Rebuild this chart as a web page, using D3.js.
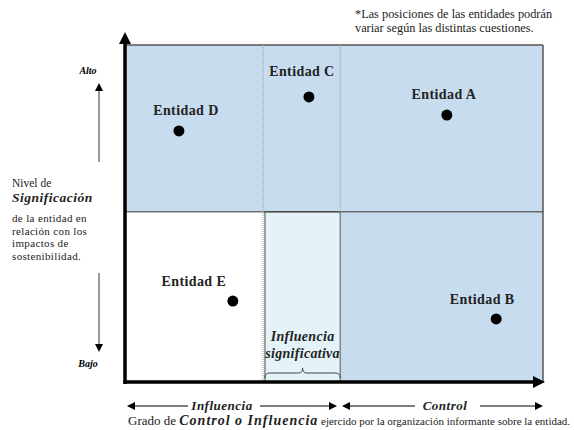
<!DOCTYPE html>
<html>
<head>
<meta charset="utf-8">
<script src="https://cdn.jsdelivr.net/npm/d3@7"></script>
</head>
<body style="margin:0">
<svg id="chart" width="574" height="430"></svg>
<script>
var entities = ["Entidad A", "Entidad B", "Entidad C", "Entidad D", "Entidad E"];
var influence = [77.0, 88.8, 44.0, 12.9, 25.8];
var significance = [79.2, 18.7, 84.6, 74.5, 24.0];
var xSplits = [33, 51.5];
var ySplit = 50.5;
var levelLabels = ["Alto", "Bajo"];
var note = ["*Las posiciones de las entidades podrán", "variar según las distintas cuestiones."];
var yTitle = ["Nivel de", "Significación", "de la entidad en", "relación con los", "impactos de", "sostenibilidad."];
var xGroups = ["Influencia", "Control"];

var svg = d3.select("#chart");
var serif = "'Liberation Serif', 'Times New Roman', serif";
var blue = "#c8dcf0";
var pale = "#e4f3f8";

var x = d3.scaleLinear().domain([0, 100]).range([125, 543]);
var y = d3.scaleLinear().domain([0, 100]).range([382, 45]);

var defs = svg.append("defs");
function marker(id, w, h) {
    defs.append("marker")
        .attr("id", id)
        .attr("viewBox", "0 0 10 10")
        .attr("refX", 0)
        .attr("refY", 5)
        .attr("markerUnits", "userSpaceOnUse")
        .attr("markerWidth", w)
        .attr("markerHeight", h)
        .attr("orient", "auto-start-reverse")
        .append("path")
        .attr("d", "M0,0L10,5L0,10Z")
        .attr("fill", "#000");
}
marker("big", 12, 12);
marker("small", 9, 8);

// quadrants
svg.append("rect")
    .attr("x", x(0)).attr("y", y(100))
    .attr("width", x(100) - x(0)).attr("height", y(ySplit) - y(100))
    .attr("fill", blue);
svg.append("rect")
    .attr("x", x(xSplits[1])).attr("y", y(ySplit))
    .attr("width", x(100) - x(xSplits[1])).attr("height", y(0) - y(ySplit))
    .attr("fill", blue);
svg.append("rect")
    .attr("x", x(xSplits[0]) + 2).attr("y", y(ySplit))
    .attr("width", x(xSplits[1]) - x(xSplits[0]) - 2).attr("height", y(0) - y(ySplit))
    .attr("fill", pale)
    .attr("stroke", "#666")
    .attr("stroke-width", 1.2);

svg.append("line")
    .attr("x1", x(0)).attr("x2", x(100))
    .attr("y1", y(100)).attr("y2", y(100))
    .attr("stroke", "#555").attr("stroke-width", 1.5);
svg.append("line")
    .attr("x1", x(100)).attr("x2", x(100))
    .attr("y1", y(100)).attr("y2", y(0))
    .attr("stroke", "#555").attr("stroke-width", 1.5);
svg.append("line")
    .attr("x1", x(0)).attr("x2", x(100))
    .attr("y1", y(ySplit)).attr("y2", y(ySplit))
    .attr("stroke", "#333").attr("stroke-width", 1);

svg.selectAll(".split")
    .data(xSplits)
    .enter().append("line")
    .attr("x1", function(d) { return x(d); })
    .attr("x2", function(d) { return x(d); })
    .attr("y1", y(100))
    .attr("y2", y(0))
    .attr("stroke", "#999")
    .attr("stroke-width", 1)
    .attr("stroke-dasharray", "1,1");

// axes
svg.append("line")
    .attr("x1", x(0)).attr("x2", x(0))
    .attr("y1", y(0) + 2).attr("y2", y(100) - 1)
    .attr("stroke", "#000").attr("stroke-width", 3.5)
    .attr("marker-end", "url(#big)");
svg.append("line")
    .attr("x1", x(0) - 1.5).attr("x2", x(100) - 10)
    .attr("y1", y(0)).attr("y2", y(0))
    .attr("stroke", "#000").attr("stroke-width", 3.5)
    .attr("marker-end", "url(#big)");

// brace
var bx0 = x(xSplits[0]) + 2, bx1 = x(xSplits[1]), bm = (bx0 + bx1) / 2, by = y(0) - 4;
svg.append("path")
    .attr("d", "M" + bx0 + "," + by + "q0,-5 5,-5L" + (bm - 4) + "," + (by - 5) +
        "q4,0 4,-5q0,5 4,5L" + (bx1 - 5) + "," + (by - 5) + "q5,0 5,5")
    .attr("fill", "none")
    .attr("stroke", "#444")
    .attr("stroke-width", 1);
svg.selectAll(".boxlabel")
    .data(["Influencia", "significativa"])
    .enter().append("text")
    .attr("x", bm)
    .attr("y", function(d, i) { return y(0) - 41 + i * 17; })
    .attr("text-anchor", "middle")
    .style("font-family", serif)
    .attr("font-size", "14px").attr("font-weight", "bold").attr("font-style", "italic")
    .attr("letter-spacing", "0.3px")
    .attr("fill", "#222")
    .text(function(d) { return d; });

// entities
var labelDx = [-3, -14, -7, 7, -39];
var labelDy = [-16, -15, -21, -16, -15];
var ent = svg.selectAll(".ent")
    .data(entities)
    .enter().append("g");
ent.append("circle")
    .attr("cx", function(d, i) { return x(influence[i]); })
    .attr("cy", function(d, i) { return y(significance[i]); })
    .attr("r", 5.5)
    .attr("fill", "#000");
ent.append("text")
    .attr("x", function(d, i) { return x(influence[i]) + labelDx[i]; })
    .attr("y", function(d, i) { return y(significance[i]) + labelDy[i]; })
    .attr("text-anchor", "middle")
    .style("font-family", serif)
    .attr("font-size", "14px")
    .attr("font-weight", "bold")
    .attr("letter-spacing", "0.4px")
    .attr("fill", "#222")
    .text(function(d) { return d; });

// left side
svg.selectAll(".level")
    .data(levelLabels)
    .enter().append("text")
    .attr("x", 88)
    .attr("y", function(d, i) { return i == 0 ? 74 : 367; })
    .attr("text-anchor", "middle")
    .style("font-family", serif)
    .attr("font-size", "10px").attr("font-weight", "bold").attr("font-style", "italic")
    .text(function(d) { return d; });
svg.append("line")
    .attr("x1", 99).attr("x2", 99).attr("y1", 162).attr("y2", 91)
    .attr("stroke", "#777").attr("stroke-width", 1.5)
    .attr("marker-end", "url(#small)");
svg.append("line")
    .attr("x1", 99).attr("x2", 99).attr("y1", 273).attr("y2", 344)
    .attr("stroke", "#777").attr("stroke-width", 1.5)
    .attr("marker-end", "url(#small)");

var ty = [187, 202, 222, 234.7, 247.4, 260.1];
svg.selectAll(".ytitle")
    .data(yTitle)
    .enter().append("text")
    .attr("x", 12)
    .attr("y", function(d, i) { return ty[i]; })
    .style("font-family", serif)
    .attr("font-size", function(d, i) { return i == 0 ? "11.5px" : i == 1 ? "13.5px" : "11px"; })
    .attr("font-weight", function(d, i) { return i == 1 ? "bold" : "normal"; })
    .attr("font-style", function(d, i) { return i == 1 ? "italic" : "normal"; })
    .attr("letter-spacing", function(d, i) { return i == 1 ? "0.5px" : i > 1 ? "0.35px" : "0px"; })
    .attr("fill", "#222")
    .text(function(d) { return d; });

// note
svg.selectAll(".note")
    .data(note)
    .enter().append("text")
    .attr("x", 355)
    .attr("y", function(d, i) { return 18 + i * 14; })
    .style("font-family", serif)
    .attr("font-size", "12.3px")
    .attr("fill", "#222")
    .text(function(d) { return d; });

// bottom
var groupX = [222, 445];
var arrows = [[188, 127], [260, 337], [415, 342], [480, 543]];
svg.selectAll(".harrow")
    .data(arrows)
    .enter().append("line")
    .attr("x1", function(d) { return d[0]; })
    .attr("x2", function(d) { return d[1] > d[0] ? d[1] - 8 : d[1] + 8; })
    .attr("y1", 406).attr("y2", 406)
    .attr("stroke", "#000").attr("stroke-width", 1)
    .attr("marker-end", "url(#small)");
svg.selectAll(".group")
    .data(xGroups)
    .enter().append("text")
    .attr("x", function(d, i) { return groupX[i]; })
    .attr("y", 410)
    .attr("text-anchor", "middle")
    .style("font-family", serif)
    .attr("font-size", "13px").attr("font-weight", "bold").attr("font-style", "italic")
    .attr("letter-spacing", "0.5px")
    .attr("fill", "#222")
    .text(function(d) { return d; });

var caption = svg.append("text")
    .attr("x", 128).attr("y", 425)
    .style("font-family", serif)
    .attr("fill", "#222");
caption.append("tspan").attr("font-size", "13px").text("Grado de ");
caption.append("tspan").attr("font-size", "14px").attr("font-weight", "bold").attr("font-style", "italic")
    .attr("letter-spacing", "1px")
    .text("Control o Influencia");
caption.append("tspan").attr("font-size", "11px").attr("letter-spacing", "0px")
    .text(" ejercido por la organización informante sobre la entidad.");
</script>
</body>
</html>
